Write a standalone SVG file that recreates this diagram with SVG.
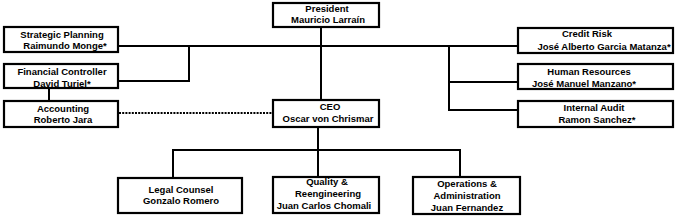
<svg xmlns="http://www.w3.org/2000/svg" width="675" height="219" viewBox="0 0 675 219">
<style>
.box{fill:#fff;stroke:#000;stroke-width:2.2}
.ln{fill:none;stroke:#000;stroke-width:2}
.dot{fill:none;stroke:#000;stroke-width:2;stroke-dasharray:2 1.2}
text{font-family:"Liberation Sans",Arial,sans-serif;font-weight:bold;font-size:9.5px;text-anchor:middle;fill:#000}
</style>
<rect width="675" height="219" fill="#fff"/>
<g id="connectors">
<path class="ln" d="M118 46H518"/>
<path class="ln" d="M189 46V81H118"/>
<path class="ln" d="M49 88V101"/>
<path class="ln" d="M321 27V100"/>
<path class="ln" d="M449 46V110H518M449 82H518"/>
<path class="dot" d="M119 113H273"/>
<path class="ln" d="M318 127V177"/>
<path class="ln" d="M173 178V150H460V177"/>
</g>
<g id="president">
<rect class="box" x="273" y="3" width="106" height="24"/>
<text x="327" y="12">President</text>
<text x="328" y="23">Mauricio Larraín</text>
</g>
<g id="strategic-planning">
<rect class="box" x="4" y="27" width="114" height="25"/>
<text x="62" y="38">Strategic Planning</text>
<text x="65" y="49">Raimundo Monge*</text>
</g>
<g id="financial-controller">
<rect class="box" x="4" y="64" width="114" height="24"/>
<text x="62" y="75">Financial Controller</text>
<text x="62" y="87">David Turiel*</text>
</g>
<g id="accounting">
<rect class="box" x="4" y="101" width="114" height="26"/>
<text x="63" y="112">Accounting</text>
<text x="63" y="123">Roberto Jara</text>
</g>
<g id="ceo">
<rect class="box" x="273" y="100" width="106" height="27"/>
<text x="330" y="110">CEO</text>
<text x="328" y="122">Oscar von Chrismar</text>
</g>
<g id="credit-risk">
<rect class="box" x="518" y="28" width="155" height="25"/>
<text x="587" y="37">Credit Risk</text>
<text x="604" y="50">José Alberto Garcia Matanza*</text>
</g>
<g id="human-resources">
<rect class="box" x="518" y="64" width="155" height="25"/>
<text x="589" y="75">Human Resources</text>
<text x="584" y="87">José Manuel Manzano*</text>
</g>
<g id="internal-audit">
<rect class="box" x="518" y="101" width="155" height="26"/>
<text x="594" y="111">Internal Audit</text>
<text x="597" y="123">Ramon Sanchez*</text>
</g>
<g id="legal-counsel">
<rect class="box" x="118" y="178" width="124" height="35"/>
<text x="181" y="193">Legal Counsel</text>
<text x="181" y="204">Gonzalo Romero</text>
</g>
<g id="quality">
<rect class="box" x="273" y="177" width="106" height="36"/>
<text x="327" y="185">Quality &amp;</text>
<text x="328" y="197">Reengineering</text>
<text x="324" y="209">Juan Carlos Chomali</text>
</g>
<g id="operations">
<rect class="box" x="413" y="177" width="107" height="37"/>
<text x="467" y="187">Operations &amp;</text>
<text x="467" y="199">Administration</text>
<text x="467" y="211">Juan Fernandez</text>
</g>
</svg>
